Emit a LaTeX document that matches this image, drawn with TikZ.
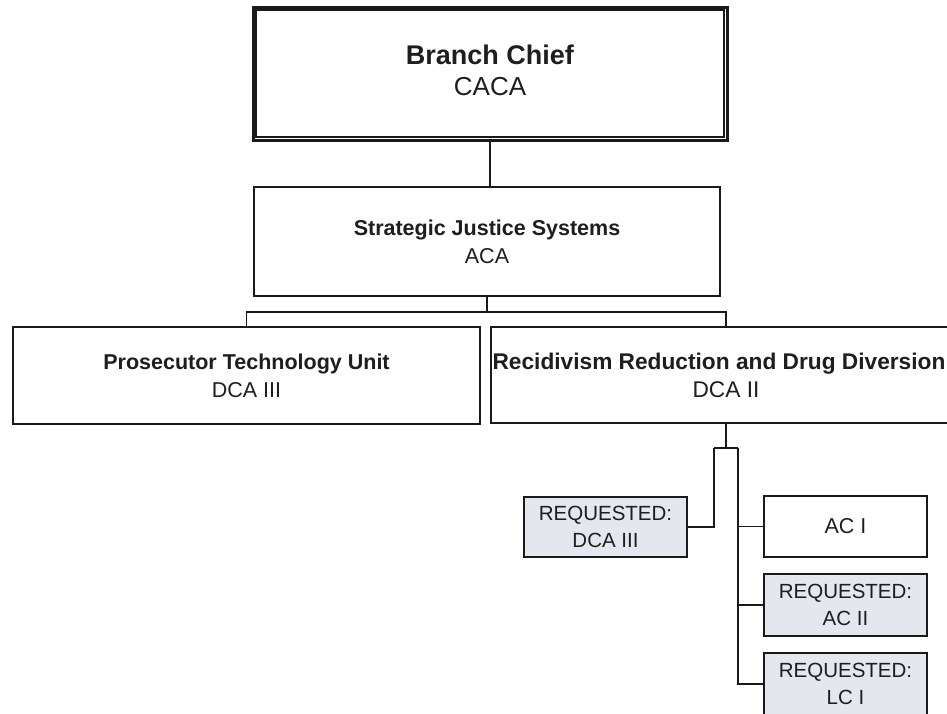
\documentclass[tikz,border=0pt]{standalone}
\usepackage{fontspec}
\setmainfont{Liberation Sans}
\definecolor{linec}{HTML}{1A1A1A}
\definecolor{reqfill}{HTML}{E5E7EE}
\definecolor{txt}{HTML}{1E1E1E}
\begin{document}
\begin{tikzpicture}[x=1pt,y=-1pt,
  box/.style={draw=linec, line width=1.3pt, rectangle, inner sep=0pt, align=center, fill=white, text=txt},
  reqbox/.style={box, fill=reqfill},
  conn/.style={draw=linec, line width=1.3pt},
  big/.style={font=\fontsize{27}{31}\selectfont},
  mid/.style={font=\fontsize{21.5}{28}\selectfont},
  small/.style={font=\fontsize{20.5}{27}\selectfont}]
\useasboundingbox (0,0) rectangle (947,713);
\clip (0,0) rectangle (947,713);
\fill[white] (0,0) rectangle (947,713);

% nodes
\node[box, line width=3pt, minimum width=474pt, minimum height=133pt, big] (bc) at (490,73.5)
  {\raisebox{6pt}{\textbf{Branch Chief}}\\\raisebox{6pt}{\fontsize{26}{31}\selectfont CACA}};
\draw[draw=linec, line width=1.4pt] ([shift={(4.5pt,-4.5pt)}]bc.north west) rectangle ([shift={(-4.5pt,4.5pt)}]bc.south east);

\node[box, minimum width=466pt, minimum height=109pt, mid] (sjs) at (487,241.5)
  {\textbf{Strategic Justice Systems}\\ACA};
\node[box, minimum width=467pt, minimum height=97pt, mid] (ptu) at (246.5,375.5)
  {\textbf{Prosecutor Technology Unit}\\DCA III};
\node[box, minimum width=470pt, minimum height=96pt, font=\fontsize{22.7}{28}\selectfont] (rrd) at (726,375)
  {\textbf{Recidivism Reduction and Drug Diversion}\hspace*{14pt}\\DCA II};

\node[reqbox, minimum width=163pt, minimum height=60pt, small] (req1) at (605.5,527)
  {REQUESTED:\\DCA III};
\node[box, minimum width=163pt, minimum height=61pt, font=\fontsize{21.5}{27}\selectfont] (ac1) at (845.5,526.5)
  {AC I};
\node[reqbox, minimum width=163pt, minimum height=62pt, small] (ac2) at (845.5,605)
  {REQUESTED:\\AC II};
\node[reqbox, minimum width=163pt, minimum height=62pt, small] (lc1) at (845.5,684)
  {REQUESTED:\\LC I};

% junctions
\coordinate (bus) at (487,312);
\coordinate (jl) at (714,448);
\coordinate (jr) at (738,448);

% connectors
\draw[conn] (bc.south) -- (bc.south |- sjs.north);
\draw[conn] (sjs.south) -- (bus);
\draw[conn] (ptu.north) |- (bus) -| (rrd.north);
\draw[conn] (rrd.south) -- (rrd.south |- jl);
\draw[conn] (jl) -- (jr);
\draw[conn] (jl) |- (req1.east);
\draw[conn] (jr) |- (ac1.west);
\draw[conn] (jr) |- (ac2.west);
\draw[conn] (jr) |- (lc1.west);
\end{tikzpicture}
\end{document}
